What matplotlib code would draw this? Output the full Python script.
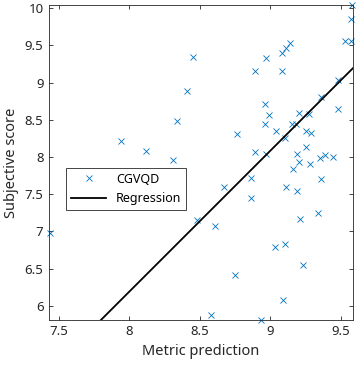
"""
Subjective score vs metric prediction (CGVQD) with regression line.
"""
import matplotlib
matplotlib.use('Agg')
import matplotlib.pyplot as plt
import numpy as np

plt.rcParams['font.family'] = ['Noto Sans', 'DejaVu Sans']

# metric prediction / subjective score pairs
metric_pred = [7.44, 7.94, 8.12, 8.31, 8.34, 8.41, 8.45, 8.48, 8.58, 8.61,
               8.67, 8.75, 8.76, 8.86, 8.86, 8.89, 8.89, 8.93, 8.96, 8.96,
               8.97, 8.97, 8.99, 9.03, 9.04, 9.08, 9.08, 9.09, 9.10, 9.10,
               9.11, 9.11, 9.14, 9.15, 9.16, 9.18, 9.19, 9.19, 9.20, 9.20,
               9.21, 9.23, 9.25, 9.25, 9.27, 9.28, 9.29, 9.34, 9.35, 9.36,
               9.36, 9.39, 9.44, 9.48, 9.48, 9.53, 9.57, 9.57, 9.58]
subj_score = [6.98, 8.22, 8.08, 7.96, 8.48, 8.89, 9.34, 7.15, 5.87, 7.07,
              7.60, 6.42, 8.31, 7.45, 7.72, 9.16, 8.07, 5.81, 8.71, 8.44,
              9.33, 8.04, 8.56, 6.79, 8.35, 9.40, 9.16, 6.08, 8.26, 6.83,
              7.60, 9.46, 9.53, 8.44, 7.84, 8.44, 8.04, 7.54, 8.59, 7.93,
              7.17, 6.55, 8.35, 8.13, 8.58, 7.91, 8.32, 7.25, 7.99, 8.80,
              7.70, 8.03, 8.00, 9.03, 8.64, 9.56, 9.56, 9.85, 10.04]

# regression fit (slope, intercept)
reg_slope = 1.894
reg_intercept = -8.96

x_lim = (7.43, 9.585)
y_lim = (5.81, 10.04)

fig = plt.figure(figsize=(3.58, 3.69), dpi=100)
ax = fig.add_axes([0.137, 0.133, 0.849, 0.853])

ax.plot(metric_pred, subj_score, 'x', color='#0072BD', markersize=4,
        markeredgewidth=0.6, label='CGVQD', clip_on=False)
xr = np.array(x_lim)
ax.plot(xr, reg_slope * xr + reg_intercept, '-', color='black', linewidth=1.3,
        label='Regression')

ax.set_xlim(*x_lim)
ax.set_ylim(*y_lim)
ax.set_xticks([7.5, 8, 8.5, 9, 9.5])
ax.set_xticklabels(['7.5', '8', '8.5', '9', '9.5'])
ax.set_yticks([6, 6.5, 7, 7.5, 8, 8.5, 9, 9.5, 10])
ax.set_yticklabels(['6', '6.5', '7', '7.5', '8', '8.5', '9', '9.5', '10'])
ax.tick_params(direction='in', top=True, right=True, length=3, width=0.6,
               labelsize=9.5, colors='#262626', pad=4)
for sp in ax.spines.values():
    sp.set_linewidth(0.6)
    sp.set_color('#262626')

ax.set_xlabel('Metric prediction', fontsize=10.5, color='#262626')
ax.set_ylabel('Subjective score', fontsize=10.5, color='#262626')

leg = ax.legend(loc='lower left', bbox_to_anchor=(0.056, 0.349),
                borderaxespad=0, fancybox=False, fontsize=9,
                handlelength=2.8, framealpha=1)
leg.get_frame().set_edgecolor('#262626')
leg.get_frame().set_linewidth(0.6)

plt.savefig('out.png', dpi=100)
